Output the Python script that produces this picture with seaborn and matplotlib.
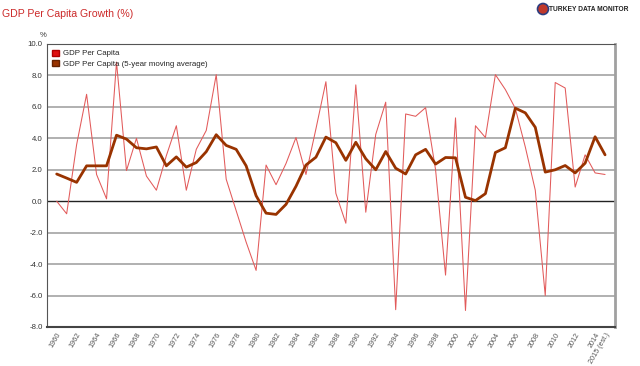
import seaborn as sns
import matplotlib.pyplot as plt
import pandas as pd
from matplotlib.patches import Patch, Circle

# Values
years = list(range(1960, 2016))
gdp_pc = [0.0, -0.8, 3.6, 6.8, 1.7, 0.15, 8.85, 1.95, 4.0, 1.6,
          0.7, 2.9, 4.8, 0.7, 3.3, 4.5, 8.05, 1.4, -0.6, -2.6,
          -4.4, 2.3, 1.05, 2.4, 4.05, 1.7, 4.6, 7.6, 0.5, -1.4,
          7.4, -0.7, 4.25, 6.3, -6.9, 5.55, 5.4, 5.95, 2.0, -4.7,
          5.3, -6.95, 4.8, 4.05, 8.05, 7.1, 5.9, 3.45, 0.7, -6.0,
          7.55, 7.2, 0.9, 2.95, 1.8, 1.7]
gdp_pc_ma5 = [1.73, 1.47, 1.2, 2.25, 2.25, 2.25, 4.2, 3.95, 3.4, 3.33,
              3.45, 2.25, 2.82, 2.17, 2.46, 3.15, 4.23, 3.55, 3.3, 2.25,
              0.35, -0.76, -0.84, -0.2, 0.95, 2.3, 2.8, 4.08, 3.72, 2.6,
              3.75, 2.7, 2.0, 3.16, 2.1, 1.73, 2.95, 3.3, 2.36, 2.78,
              2.76, 0.25, 0.04, 0.48, 3.1, 3.4, 5.92, 5.62, 4.7, 1.85,
              2.0, 2.27, 1.8, 2.42, 4.1, 2.95]
tick_years = list(range(1960, 2016, 2)) + [2015]
tick_labels = [str(y) for y in range(1960, 2016, 2)] + ['2015 (est.)']
y_ticks = [10, 8, 6, 4, 2, 0, -2, -4, -6, -8]

df = pd.DataFrame({'Year': years, 'GDP': gdp_pc, 'MA5': gdp_pc_ma5})

sns.set_style('white')
plt.rcParams['font.family'] = ['Liberation Sans', 'DejaVu Sans']

red = '#e25a5a'
brown = '#993300'

fig = plt.figure(figsize=(6.4, 3.66), dpi=100)
ax = fig.add_axes([0.073, 0.1066, 0.888, 0.7732])

# horizontal grid
for v in y_ticks:
    if v == 0:
        ax.axhline(v, color='#222222', lw=1.0, zorder=1)
    elif v not in (10, -8):
        ax.axhline(v, color='#aaaaaa', lw=1.3, zorder=1)

sns.lineplot(data=df, x='Year', y='GDP', ax=ax, color=red, lw=0.75, zorder=3)
sns.lineplot(data=df, x='Year', y='MA5', ax=ax, color=brown, lw=2.0, zorder=4)

ax.set_xlim(1959, 2016)
ax.set_ylim(-8, 10)
ax.set_yticks(y_ticks)
ax.set_yticklabels([f'{v:.1f}' for v in y_ticks], fontsize=5.6, color='#333333')
ax.set_xticks(tick_years)
ax.set_xticklabels(tick_labels, rotation=60, ha='right', rotation_mode='anchor',
                   fontsize=5.2, color='#555555')
ax.tick_params(axis='both', length=0, pad=3)
ax.set_xlabel('')
ax.set_ylabel('')

ax.spines['left'].set_color('#555555')
ax.spines['left'].set_linestyle((0, (1, 1)))
ax.spines['top'].set_color('#555555')
ax.spines['top'].set_linestyle((0, (1, 1)))
ax.spines['right'].set_color('#a0a0a0')
ax.spines['right'].set_linewidth(2.0)
ax.spines['bottom'].set_color('#444444')
ax.spines['bottom'].set_linewidth(1.5)

handles = [Patch(facecolor='#e01010', edgecolor='#b00000', label='GDP Per Capita'),
           Patch(facecolor=brown, edgecolor='#662200',
                 label='GDP Per Capita (5-year moving average)')]
ax.legend(handles=handles, loc='upper left', fontsize=5.7, frameon=False,
          handlelength=0.8, handleheight=0.8, handletextpad=0.5,
          labelspacing=0.35, borderaxespad=0.3)

fig.text(0.003, 0.962, 'GDP Per Capita Growth (%)', fontsize=7.6,
         color='#cc2a2a', va='center', ha='left')
fig.text(0.0625, 0.902, '%', fontsize=5.6, color='#333333', va='center')

# logo
fig.patches.append(Circle((5.43, 3.57), 0.055, transform=fig.dpi_scale_trans,
                          facecolor='#c0392b', edgecolor='#2c3e80', lw=1.2))
fig.text(0.858, 0.975, 'TURKEY DATA MONITOR', fontsize=4.8, fontweight='bold',
         color='#222222', va='center', ha='left')

fig.savefig('out.png', dpi=100)
